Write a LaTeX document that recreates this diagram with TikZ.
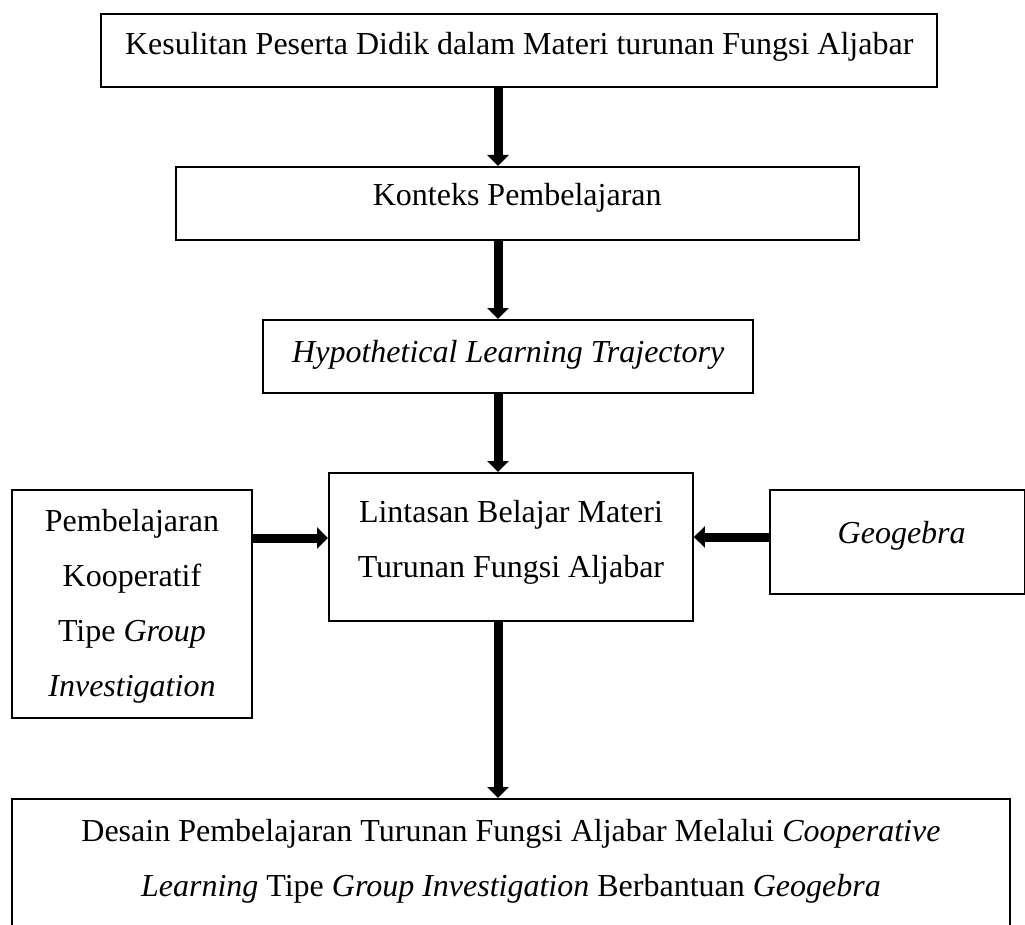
\documentclass[tikz,border=0pt]{standalone}
\usepackage{fontspec}
\setmainfont{Liberation Serif}
\usetikzlibrary{arrows.meta}
\newcommand\rowsbox[1]{\begin{tabular}[t]{@{}c@{}}#1\end{tabular}}
\begin{document}
\begin{tikzpicture}[x=1pt,y=-1pt,
  box/.style={draw, line width=2.4pt, rectangle, inner sep=0pt, anchor=north west,
    font=\fontsize{32}{55}\selectfont},
  dims/.style n args={4}{minimum width=#1pt, minimum height=#2pt, text height=#3pt, text depth=#4pt},
  arr/.style={line width=9pt, -{Triangle[length=11pt,width=21pt]}}]
\useasboundingbox (0,0) rectangle (1025,925);
\fill[white] (0,0) rectangle (1025,925);

\node[box, dims={836}{73}{40.5}{32.5}] (kesulitan) at (100,13)
  {Kesulitan Peserta Didik dalam Materi turunan Fungsi Aljabar};
\node[box, dims={683}{73}{38}{35}] (konteks) at (174.5,166)
  {Konteks Pembelajaran};
\node[box, dims={490}{73}{42}{31}] (hlt) at (262,319)
  {\textit{Hypothetical Learning Trajectory}};
\node[box, dims={363.5}{147.5}{49}{98.5}] (lintasan) at (328,472)
  {\rowsbox{Lintasan Belajar Materi\\Turunan Fungsi Aljabar}};
\node[box, dims={240.5}{228.5}{41.5}{187}] (kooperatif) at (10.5,488.5)
  {\rowsbox{Pembelajaran\\Kooperatif\\Tipe \textit{Group}\\\textit{Investigation}}};
\node[box, dims={255}{104.5}{53.5}{51}] (geogebra) at (769,488.5)
  {\hspace*{8pt}\textit{Geogebra}};
\node[box, dims={998.5}{142}{42}{100}] (desain) at (10.5,798)
  {\rowsbox{Desain Pembelajaran Turunan Fungsi Aljabar Melalui \textit{Cooperative}\\
  \textit{Learning} Tipe \textit{Group Investigation} Berbantuan \textit{Geogebra}}};

\coordinate (vx) at (498,0);
\coordinate (hl) at (0,538);
\coordinate (hr) at (0,537);

\draw[arr] (kesulitan.south -| vx) -- (konteks.north -| vx);
\draw[arr] (konteks.south -| vx) -- (hlt.north -| vx);
\draw[arr] (hlt.south -| vx) -- (lintasan.north -| vx);
\draw[arr] (lintasan.south -| vx) -- (desain.north -| vx);
\draw[arr] (kooperatif.east |- hl) -- (lintasan.west |- hl);
\draw[arr] (geogebra.west |- hr) -- (lintasan.east |- hr);
\end{tikzpicture}
\end{document}
